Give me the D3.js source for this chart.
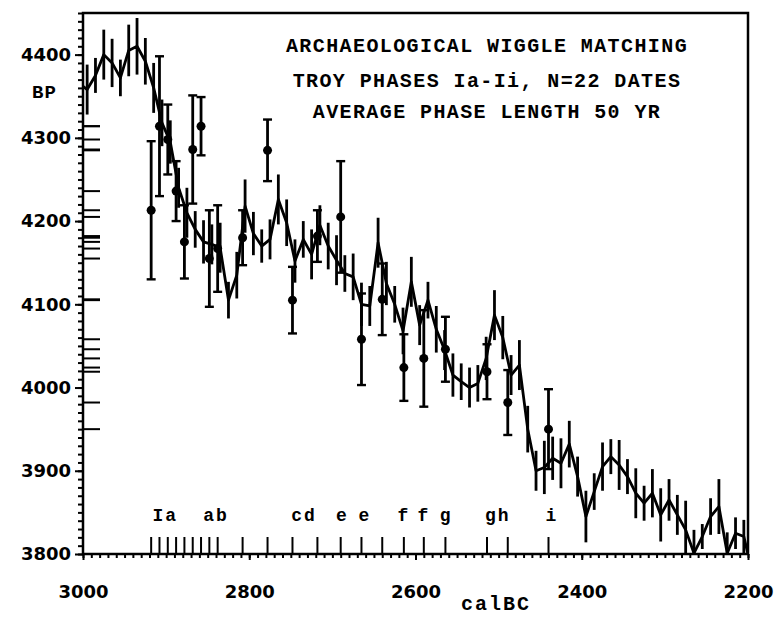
<!DOCTYPE html>
<html>
<head>
<meta charset="utf-8">
<script src="https://cdn.jsdelivr.net/npm/d3@7/dist/d3.min.js"></script>
<style>
  body { margin: 0; background: #fff; }
  .mono { font-family: "Liberation Mono", "DejaVu Sans Mono", monospace; font-weight: bold; }
  .num { font-family: "DejaVu Sans", sans-serif; font-weight: bold; font-size: 18px; }
</style>
</head>
<body>
<svg id="chart" width="779" height="617"></svg>
<script>
// calibration curve, calBC / BP / 1 sigma
var calYears = [3005, 2995, 2985, 2975, 2965, 2955, 2945, 2935, 2925, 2915,
  2905, 2895, 2885, 2875, 2865, 2855, 2845, 2835, 2825, 2815,
  2805, 2795, 2785, 2775, 2765, 2755, 2745, 2735, 2725, 2715,
  2705, 2695, 2685, 2675, 2665, 2655, 2645, 2635, 2625, 2615,
  2605, 2595, 2585, 2575, 2565, 2555, 2545, 2535, 2525, 2515,
  2505, 2495, 2485, 2475, 2465, 2455, 2445, 2435, 2425, 2415,
  2405, 2395, 2385, 2375, 2365, 2355, 2345, 2335, 2325, 2315,
  2305, 2295, 2285, 2275, 2265, 2255, 2245, 2235, 2225, 2215,
  2205, 2195];
var calBP = [4366, 4358, 4375, 4400, 4390, 4372, 4405, 4410, 4392, 4360,
  4318, 4295, 4240, 4210, 4190, 4175, 4172, 4168, 4105, 4135,
  4218, 4185, 4170, 4178, 4226, 4198, 4152, 4178, 4160, 4195,
  4170, 4153, 4137, 4133, 4100, 4098, 4174, 4125, 4100, 4068,
  4127, 4075, 4105, 4070, 4045, 4015, 4007, 4000, 4005, 4035,
  4087, 4060, 4015, 4027, 3950, 3900, 3904, 3915, 3909, 3932,
  3893, 3845, 3875, 3905, 3917, 3907, 3893, 3873, 3861, 3873,
  3847, 3865, 3847, 3829, 3801, 3821, 3845, 3857, 3801, 3825,
  3821, 3778];
var calErr = [25, 30, 21, 30, 29, 22, 31, 34, 28, 30,
  28, 26, 24, 30, 22, 26, 24, 30, 22, 28,
  32, 26, 20, 24, 30, 28, 26, 22, 30, 24,
  28, 30, 22, 28, 26, 24, 30, 26, 22, 28,
  30, 24, 22, 28, 24, 26, 22, 24, 22, 26,
  30, 26, 24, 30, 28, 24, 32, 26, 30, 28,
  24, 31, 22, 29, 21, 30, 21, 30, 21, 29,
  32, 25, 24, 35, 28, 15, 22, 33, 25, 19,
  20, 20];

// the 22 Troy dates, wiggle-matched position
var dateYears = [2918, 2908, 2898, 2888, 2878, 2868, 2858, 2848, 2838, 2808,
  2778, 2748, 2718, 2690, 2665, 2640, 2614, 2590, 2564, 2514, 2489, 2440];
var dateBP = [4213, 4314, 4298, 4236, 4175, 4286, 4314, 4155, 4167, 4180,
  4285, 4105, 4182, 4205, 4058, 4106, 4024, 4035, 4046, 4019, 3982, 3950];
var dateErr = [83, 84, 42, 36, 44, 65, 35, 58, 52, 33,
  37, 40, 31, 67, 55, 43, 40, 58, 39, 33, 39, 48];

var phaseNames = ["Ia", "ab", "cd", "e", "e", "f", "f", "g", "gh", "i"];
var phaseYears = [2901, 2840, 2734, 2688, 2661, 2614, 2590, 2563, 2501, 2436];

var xLabels = [3000, 2800, 2600, 2400, 2200];
var yLabels = [3800, 3900, 4000, 4100, 4200, 4300, 4400];
var titleLines = ["ARCHAEOLOGICAL WIGGLE MATCHING",
  "TROY PHASES Ia-Ii, N=22 DATES",
  "AVERAGE PHASE LENGTH 50 YR"];

var margin = { top: 13, right: 31, bottom: 63, left: 83 },
  width = 779 - margin.left - margin.right,
  height = 617 - margin.top - margin.bottom;

var svg = d3.select("#chart")
  .append("g")
  .attr("transform", "translate(" + margin.left + "," + margin.top + ")");

var x = d3.scaleLinear().domain([3000, 2200]).range([0, width]);
var y = d3.scaleLinear().domain([3800, 4450]).range([height, 0]);

svg.append("clipPath").attr("id", "plotclip")
  .append("rect").attr("width", width).attr("height", height);

// minor ticks every 10
var yMinor = svg.append("g")
  .call(d3.axisLeft(y).tickValues(d3.range(3800, 4451, 10)).tickSize(5).tickFormat(""));
var yMajor = svg.append("g")
  .call(d3.axisLeft(y).tickValues(yLabels).tickSize(8).tickPadding(4).tickFormat(d3.format("d")));
var xMinor = svg.append("g")
  .attr("transform", "translate(0," + height + ")")
  .call(d3.axisBottom(x).tickValues(d3.range(3000, 2199, -10)).tickSize(4).tickFormat(""));
var xMajor = svg.append("g")
  .attr("transform", "translate(0," + height + ")")
  .call(d3.axisBottom(x).tickValues(xLabels).tickSize(6).tickPadding(25).tickFormat(d3.format("d")));

svg.selectAll(".domain").remove();
svg.selectAll(".tick line").attr("stroke", "#000").attr("stroke-width", 2);
svg.selectAll(".tick text").attr("class", "num").attr("fill", "#000");

// frame
svg.append("rect")
  .attr("width", width).attr("height", height)
  .attr("fill", "none").attr("stroke", "#000").attr("stroke-width", 2.5);

// date ticks on the BP axis and calendar axis
svg.selectAll(".bptick").data(dateBP).enter().append("line")
  .attr("x1", 0).attr("x2", 17)
  .attr("y1", function (d) { return y(d); }).attr("y2", function (d) { return y(d); })
  .attr("stroke", "#000").attr("stroke-width", 2);
svg.selectAll(".caltick").data(dateYears).enter().append("line")
  .attr("x1", function (d) { return x(d); }).attr("x2", function (d) { return x(d); })
  .attr("y1", height).attr("y2", height - 17)
  .attr("stroke", "#000").attr("stroke-width", 2);

// calibration curve
var plot = svg.append("g").attr("clip-path", "url(#plotclip)");
var cal = calYears.map(function (d, i) { return { yr: d, bp: calBP[i], e: calErr[i] }; });

plot.selectAll(".calbar").data(cal).enter().append("line")
  .attr("x1", function (d) { return x(d.yr); }).attr("x2", function (d) { return x(d.yr); })
  .attr("y1", function (d) { return y(d.bp - d.e); }).attr("y2", function (d) { return y(d.bp + d.e); })
  .attr("stroke", "#000").attr("stroke-width", 2.8);

plot.append("path").datum(cal)
  .attr("fill", "none").attr("stroke", "#000").attr("stroke-width", 2.8)
  .attr("stroke-linejoin", "round")
  .attr("d", d3.line().x(function (d) { return x(d.yr); }).y(function (d) { return y(d.bp); }));

// dates with error bars
var dates = dateYears.map(function (d, i) { return { yr: d, bp: dateBP[i], e: dateErr[i] }; });
var dg = plot.selectAll(".date").data(dates).enter().append("g");
dg.append("line")
  .attr("x1", function (d) { return x(d.yr); }).attr("x2", function (d) { return x(d.yr); })
  .attr("y1", function (d) { return y(d.bp - d.e); }).attr("y2", function (d) { return y(d.bp + d.e); })
  .attr("stroke", "#000").attr("stroke-width", 2.8);
[-1, 1].forEach(function (s) {
  dg.append("line")
    .attr("x1", function (d) { return x(d.yr) - 4.5; }).attr("x2", function (d) { return x(d.yr) + 4.5; })
    .attr("y1", function (d) { return y(d.bp + s * d.e); }).attr("y2", function (d) { return y(d.bp + s * d.e); })
    .attr("stroke", "#000").attr("stroke-width", 2.4);
});
dg.append("circle")
  .attr("cx", function (d) { return x(d.yr); }).attr("cy", function (d) { return y(d.bp); })
  .attr("r", 4.5).attr("fill", "#000");

// phase letters
svg.selectAll(".phase").data(phaseNames).enter().append("text")
  .attr("class", "mono")
  .attr("x", function (d, i) { return x(phaseYears[i]); })
  .attr("y", 508)
  .attr("text-anchor", "middle")
  .style("font-size", "18px").style("letter-spacing", "2px")
  .text(function (d) { return d; });

// titles
svg.selectAll(".title").data(titleLines).enter().append("text")
  .attr("class", "mono")
  .attr("x", 404)
  .attr("y", function (d, i) { return [39, 74, 105][i]; })
  .attr("text-anchor", "middle")
  .style("font-size", "20px").style("letter-spacing", "1.4px")
  .text(function (d) { return d; });

svg.append("text").attr("class", "mono")
  .attr("x", -51).attr("y", 85)
  .style("font-size", "19px").style("letter-spacing", "1px")
  .text("BP");

svg.append("text").attr("class", "mono")
  .attr("x", 413).attr("y", 597)
  .attr("text-anchor", "middle")
  .style("font-size", "20px").style("letter-spacing", "2px")
  .text("calBC");
</script>
</body>
</html>
